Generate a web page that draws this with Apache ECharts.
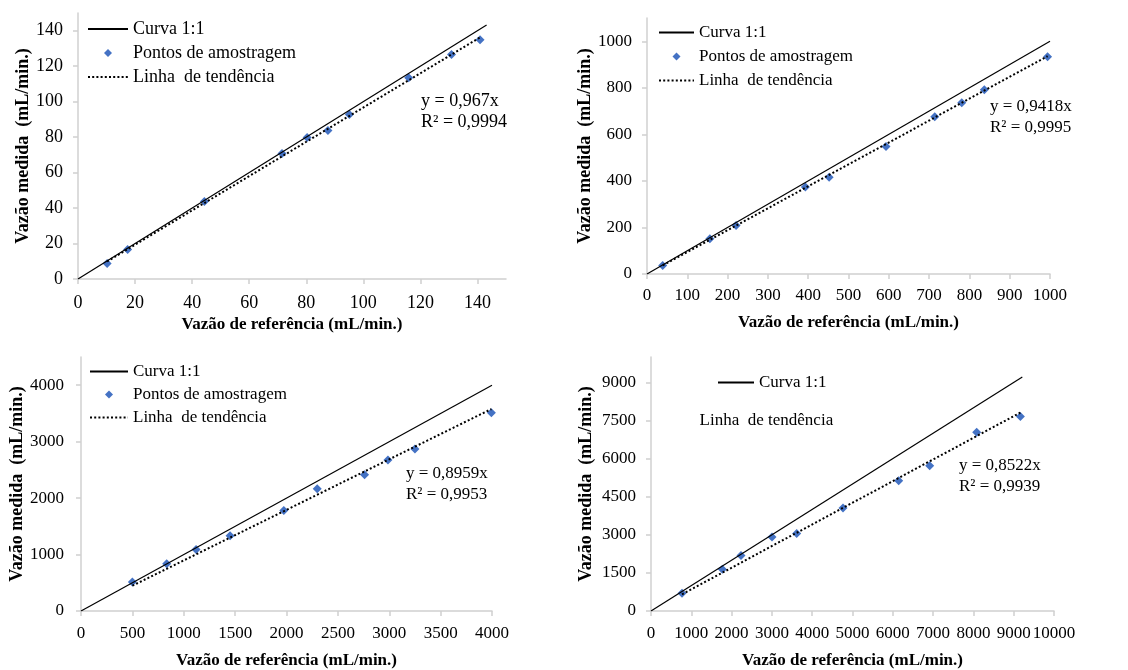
<!DOCTYPE html>
<html>
<head>
<meta charset="utf-8">
<script src="https://cdn.jsdelivr.net/npm/echarts@6/dist/echarts.min.js"></script>
<style>
html, body { margin: 0; padding: 0; background: #fff; }
#chartTest { width: 1128px; height: 670px; }
</style>
</head>
<body>
<div id="chartTest"></div>
<script>
// valores (vazão de referência x vazão medida)
var refA = [10.2, 17.4, 44.3, 71.5, 80.3, 87.6, 95.1, 115.9, 130.9, 140.9];
var medA = [8.8, 16.7, 43.7, 70.8, 79.8, 83.7, 92.8, 113.5, 126.6, 134.9];

var refB = [39, 156, 221, 393, 452, 593, 714, 781, 837, 994];
var medB = [36, 152, 208, 374, 416, 548, 676, 736, 792, 934];

var refC = [500, 834, 1120, 1451, 1974, 2299, 2760, 2987, 3250, 3994];
var medC = [512, 835, 1088, 1335, 1782, 2165, 2412, 2676, 2871, 3512];

var refD = [769, 1770, 2233, 3002, 3615, 4764, 6146, 6915, 8081, 9165];
var medD = [702, 1639, 2185, 2913, 3056, 4058, 5124, 5722, 7036, 7660];

var slopes = [0.967, 0.9418, 0.8959, 0.8522];
var slopeTxt = ['0,967', '0,9418', '0,8959', '0,8522'];
var r2Txt = ['0,9994', '0,9995', '0,9953', '0,9939'];
var curvaEnd = [143.2, 1000, 4000, 9214];

var xTicksA = [0, 20, 40, 60, 80, 100, 120, 140];
var yTicksA = [0, 20, 40, 60, 80, 100, 120, 140];
var xTicksB = [0, 100, 200, 300, 400, 500, 600, 700, 800, 900, 1000];
var yTicksB = [0, 200, 400, 600, 800, 1000];
var xTicksC = [0, 500, 1000, 1500, 2000, 2500, 3000, 3500, 4000];
var yTicksC = [0, 1000, 2000, 3000, 4000];
var xTicksD = [0, 1000, 2000, 3000, 4000, 5000, 6000, 7000, 8000, 9000, 10000];
var yTicksD = [0, 1500, 3000, 4500, 6000, 7500, 9000];

var xTitle = 'Vazão de referência (mL/min.)';
var yTitle = 'Vazão medida  (mL/min.)';
var FONT = 'Liberation Serif';

var myChart = echarts.init(document.getElementById('chartTest'));

var panels = [
	{ref: refA, med: medA, xMax: 150, yMax: 150, xStep: 20, yStep: 20, xTicks: xTicksA, yTicks: yTicksA,
		grid: {left: 78, top: 13, width: 428, height: 266}, fs: 18, xGap: 37, yGap: 46, xMargin: 15, yMargin: 15,
		eq: {left: 421, top: 91}},
	{ref: refB, med: medB, xMax: 1000, yMax: 1100, xStep: 100, yStep: 200, xTicks: xTicksB, yTicks: yTicksB,
		grid: {left: 647, top: 18, width: 403, height: 256}, fs: 17, xGap: 40, yGap: 52, xMargin: 13, yMargin: 15,
		eq: {left: 990, top: 96}},
	{ref: refC, med: medC, xMax: 4000, yMax: 4500, xStep: 500, yStep: 1000, xTicks: xTicksC, yTicks: yTicksC,
		grid: {left: 81, top: 357, width: 411, height: 255}, fs: 17, xGap: 41, yGap: 54, xMargin: 14, yMargin: 17,
		eq: {left: 406, top: 463}},
	{ref: refD, med: medD, xMax: 10000, yMax: 10000, xStep: 1000, yStep: 1500, xTicks: xTicksD, yTicks: yTicksD,
		grid: {left: 651, top: 357, width: 403, height: 255}, fs: 17, xGap: 41, yGap: 56, xMargin: 14, yMargin: 15,
		eq: {left: 959, top: 455}}
];

function plainNum(v) {
	return String(v);
}

var grids = [], xAxes = [], yAxes = [], series = [], graphics = [];

for (var i = 0; i < panels.length; i++) {
	var p = panels[i];
	grids.push(p.grid);
	var axisCommon = {
		type: 'value',
		min: 0,
		splitLine: {show: false},
		axisLine: {show: true, onZero: false, lineStyle: {color: '#d0d0d0', width: 1.5}},
		axisTick: {show: true, inside: false, length: 5, lineStyle: {color: '#d0d0d0', width: 1.5}},
		nameLocation: 'middle',
		nameTextStyle: {fontFamily: FONT, fontWeight: 'bold', fontSize: 17, color: '#000'}
	};
	xAxes.push(Object.assign({}, axisCommon, {
		gridIndex: i, max: p.xMax, interval: p.xStep,
		name: xTitle, nameGap: p.xGap,
		axisTick: Object.assign({}, axisCommon.axisTick, {customValues: p.xTicks}),
		axisLabel: {customValues: p.xTicks, formatter: plainNum, fontFamily: FONT, fontSize: p.fs, color: '#000', margin: p.xMargin}
	}));
	yAxes.push(Object.assign({}, axisCommon, {
		gridIndex: i, max: p.yMax, interval: p.yStep,
		name: yTitle, nameGap: p.yGap,
		nameTextStyle: Object.assign({}, axisCommon.nameTextStyle, {fontSize: 18}),
		axisTick: Object.assign({}, axisCommon.axisTick, {customValues: p.yTicks}),
		axisLabel: {customValues: p.yTicks, formatter: plainNum, fontFamily: FONT, fontSize: p.fs, color: '#000', margin: p.yMargin}
	}));

	var pts = [];
	for (var j = 0; j < p.ref.length; j++) {
		pts.push([p.ref[j], p.med[j]]);
	}
	var x0 = Math.min.apply(null, p.ref);
	var x1 = Math.max.apply(null, p.ref);

	series.push({
		name: 'Curva 1:1', type: 'line', xAxisIndex: i, yAxisIndex: i,
		data: [[0, 0], [curvaEnd[i], curvaEnd[i]]],
		symbol: 'none', showSymbol: false, silent: true,
		itemStyle: {color: '#000'},
		lineStyle: {color: '#000', width: 1.2}
	});
	series.push({
		name: 'Pontos de amostragem', type: 'scatter', xAxisIndex: i, yAxisIndex: i,
		data: pts, symbol: 'diamond', symbolSize: 9,
		itemStyle: {color: '#4472C4', opacity: 1}
	});
	series.push({
		name: 'Linha  de tendência', type: 'line', xAxisIndex: i, yAxisIndex: i,
		data: [[x0, slopes[i] * x0], [x1, slopes[i] * x1]],
		symbol: 'none', showSymbol: false, silent: true,
		itemStyle: {color: '#000'},
		lineStyle: {color: '#000', width: 2, type: [2, 2.2]}
	});

	graphics.push({
		type: 'text', left: p.eq.left, top: p.eq.top,
		style: {
			text: 'y = ' + slopeTxt[i] + 'x\nR² = ' + r2Txt[i],
			font: p.fs + 'px "' + FONT + '"', fill: '#000', lineHeight: 21
		}
	});
}

var diamondIcon = 'path://M0,0M14,14M7,3L11,7L7,11L3,7Z';
var legendText = {fontFamily: FONT, fontSize: 17, color: '#000'};
var noSymbol = {opacity: 0};

var legends = [
	{left: 87, top: 20, itemWidth: 40, itemGap: 6, fs: 18},
	{left: 658, top: 24, itemWidth: 35, itemGap: 7, fs: 17},
	{left: 89, top: 363, itemWidth: 38, itemGap: 6, fs: 17}
].map(function(l) {
	return {
		orient: 'vertical', left: l.left, top: l.top, padding: 0,
		itemWidth: l.itemWidth, itemHeight: 14, itemGap: l.itemGap,
		selectedMode: false,
		textStyle: Object.assign({}, legendText, {fontSize: l.fs}),
		data: [
			{name: 'Curva 1:1', itemStyle: noSymbol},
			{name: 'Pontos de amostragem', icon: diamondIcon, itemStyle: {color: '#4472C4', opacity: 1}},
			{name: 'Linha  de tendência', itemStyle: noSymbol}
		]
	};
});
// quarto gráfico: legenda incompleta, como no original
legends.push({
	orient: 'vertical', left: 717, top: 374, padding: 0,
	itemWidth: 36, itemHeight: 14, selectedMode: false,
	textStyle: legendText,
	data: [{name: 'Curva 1:1', itemStyle: noSymbol}]
});
legends.push({
	orient: 'vertical', left: 689, top: 412, padding: 0,
	itemWidth: 0, itemHeight: 14, selectedMode: false,
	textStyle: legendText,
	data: [{name: 'Linha  de tendência', lineStyle: {opacity: 0}, itemStyle: noSymbol}]
});

var option = {
	backgroundColor: '#fff',
	animation: false,
	grid: grids,
	xAxis: xAxes,
	yAxis: yAxes,
	legend: legends,
	series: series,
	graphic: graphics
};

myChart.setOption(option);
</script>
</body>
</html>
